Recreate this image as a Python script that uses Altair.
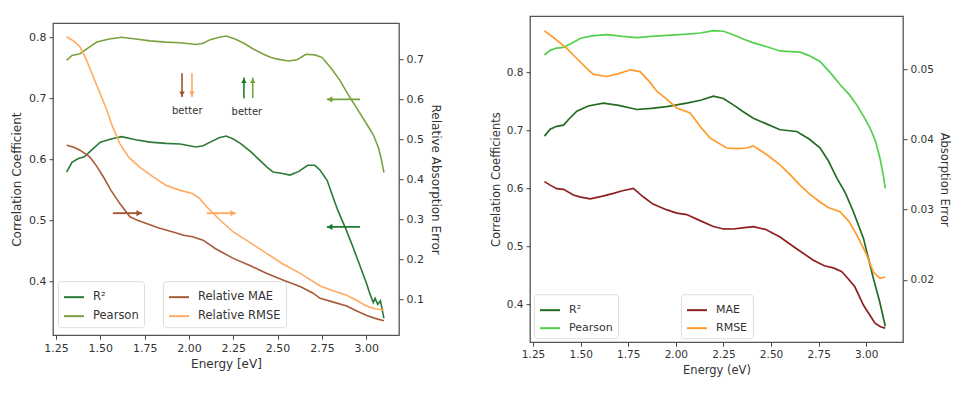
import altair as alt
import pandas as pd

# ---------------- Left panel data ----------------
L_pear_e = [1.31, 1.34, 1.385, 1.43, 1.48, 1.55, 1.62, 1.70, 1.78, 1.87, 1.95, 2.04, 2.08, 2.12, 2.17, 2.21, 2.26, 2.31, 2.36, 2.42, 2.46, 2.50, 2.56, 2.61, 2.66, 2.71, 2.75, 2.80, 2.85, 2.90, 2.95, 3.00, 3.04, 3.07, 3.085, 3.10]
L_pear_v = [0.762, 0.770, 0.773, 0.782, 0.792, 0.797, 0.800, 0.797, 0.794, 0.792, 0.791, 0.788, 0.790, 0.796, 0.800, 0.802, 0.797, 0.790, 0.781, 0.772, 0.767, 0.764, 0.761, 0.763, 0.772, 0.771, 0.767, 0.750, 0.730, 0.705, 0.682, 0.659, 0.640, 0.618, 0.600, 0.578]

L_r2_e = [1.31, 1.34, 1.376, 1.41, 1.45, 1.50, 1.56, 1.62, 1.70, 1.78, 1.87, 1.95, 2.04, 2.08, 2.12, 2.17, 2.21, 2.25, 2.29, 2.35, 2.40, 2.44, 2.475, 2.52, 2.57, 2.62, 2.67, 2.71, 2.74, 2.78, 2.81, 2.84, 2.88, 2.92, 2.96, 3.00, 3.02, 3.04, 3.05, 3.065, 3.08, 3.10]
L_r2_v = [0.579, 0.595, 0.601, 0.604, 0.615, 0.628, 0.633, 0.637, 0.632, 0.628, 0.626, 0.625, 0.620, 0.622, 0.628, 0.635, 0.638, 0.633, 0.626, 0.612, 0.598, 0.587, 0.579, 0.577, 0.574, 0.580, 0.590, 0.590, 0.582, 0.565, 0.540, 0.516, 0.489, 0.460, 0.429, 0.398, 0.380, 0.365, 0.372, 0.362, 0.368, 0.339]

L_rmse_e = [1.31, 1.35, 1.385, 1.42, 1.46, 1.50, 1.536, 1.57, 1.61, 1.66, 1.72, 1.80, 1.87, 1.95, 2.02, 2.06, 2.10, 2.175, 2.25, 2.35, 2.44, 2.53, 2.63, 2.74, 2.82, 2.89, 2.95, 3.00, 3.05, 3.10]
L_rmse_v = [0.756, 0.745, 0.731, 0.700, 0.656, 0.613, 0.573, 0.530, 0.489, 0.455, 0.431, 0.405, 0.385, 0.372, 0.364, 0.352, 0.331, 0.298, 0.268, 0.240, 0.214, 0.188, 0.164, 0.133, 0.120, 0.110, 0.096, 0.083, 0.076, 0.073]

L_mae_e = [1.31, 1.35, 1.385, 1.44, 1.48, 1.517, 1.56, 1.61, 1.667, 1.71, 1.76, 1.83, 1.91, 1.97, 2.02, 2.08, 2.15, 2.25, 2.35, 2.44, 2.53, 2.63, 2.70, 2.74, 2.82, 2.89, 2.95, 3.00, 3.05, 3.10]
L_mae_v = [0.485, 0.480, 0.4725, 0.456, 0.432, 0.406, 0.372, 0.339, 0.306, 0.297, 0.289, 0.278, 0.268, 0.260, 0.256, 0.2475, 0.226, 0.202, 0.183, 0.164, 0.148, 0.131, 0.115, 0.102, 0.092, 0.083, 0.070, 0.060, 0.052, 0.046]

# ---------------- Right panel data ----------------
R_pear_e = [1.31, 1.34, 1.374, 1.41, 1.45, 1.50, 1.56, 1.637, 1.72, 1.795, 1.87, 1.952, 2.057, 2.13, 2.197, 2.25, 2.302, 2.35, 2.407, 2.47, 2.547, 2.60, 2.652, 2.70, 2.757, 2.81, 2.862, 2.91, 2.95, 2.99, 3.02, 3.05, 3.072, 3.09, 3.10]
R_pear_v = [0.830, 0.838, 0.842, 0.843, 0.850, 0.859, 0.863, 0.865, 0.862, 0.860, 0.862, 0.864, 0.866, 0.868, 0.872, 0.871, 0.865, 0.858, 0.851, 0.845, 0.837, 0.836, 0.835, 0.829, 0.819, 0.800, 0.779, 0.762, 0.744, 0.722, 0.704, 0.680, 0.652, 0.622, 0.600]

R_r2_e = [1.31, 1.34, 1.374, 1.41, 1.44, 1.48, 1.54, 1.619, 1.70, 1.795, 1.87, 1.952, 2.057, 2.13, 2.197, 2.25, 2.302, 2.35, 2.407, 2.47, 2.547, 2.635, 2.70, 2.757, 2.80, 2.845, 2.89, 2.932, 2.985, 3.037, 3.07, 3.10]
R_r2_v = [0.690, 0.702, 0.707, 0.709, 0.720, 0.733, 0.742, 0.747, 0.743, 0.736, 0.738, 0.741, 0.747, 0.752, 0.759, 0.755, 0.744, 0.733, 0.721, 0.712, 0.701, 0.698, 0.685, 0.670, 0.648, 0.618, 0.592, 0.560, 0.514, 0.445, 0.405, 0.362]

R_rmse_e = [1.31, 1.35, 1.392, 1.427, 1.46, 1.497, 1.53, 1.567, 1.637, 1.70, 1.76, 1.812, 1.86, 1.90, 1.95, 2.005, 2.075, 2.13, 2.18, 2.267, 2.32, 2.372, 2.407, 2.48, 2.547, 2.60, 2.652, 2.70, 2.757, 2.80, 2.862, 2.91, 2.95, 3.00, 3.037, 3.072, 3.10]
R_rmse_v = [0.0555, 0.0547, 0.0538, 0.0530, 0.0521, 0.0511, 0.0502, 0.0493, 0.0490, 0.0494, 0.04995, 0.0497, 0.0483, 0.0469, 0.0458, 0.0445, 0.0438, 0.0418, 0.0402, 0.0388, 0.0387, 0.0388, 0.0391, 0.0378, 0.0364, 0.0350, 0.0335, 0.0323, 0.0311, 0.0303, 0.0297, 0.0283, 0.0264, 0.0237, 0.0211, 0.0202, 0.0204]

R_mae_e = [1.31, 1.34, 1.374, 1.41, 1.462, 1.50, 1.55, 1.61, 1.672, 1.72, 1.777, 1.83, 1.88, 1.95, 2.005, 2.057, 2.13, 2.197, 2.25, 2.302, 2.35, 2.407, 2.47, 2.547, 2.63, 2.722, 2.78, 2.827, 2.87, 2.897, 2.94, 2.985, 3.02, 3.046, 3.075, 3.10]
R_mae_v = [0.0340, 0.0335, 0.0330, 0.0329, 0.0321, 0.0318, 0.03153, 0.0319, 0.03233, 0.0327, 0.03304, 0.0318, 0.0308, 0.0300, 0.0295, 0.0293, 0.0284, 0.0276, 0.02725, 0.02724, 0.0274, 0.02757, 0.0272, 0.0261, 0.0245, 0.0228, 0.0220, 0.0217, 0.0212, 0.0204, 0.0190, 0.0164, 0.0149, 0.0138, 0.0133, 0.0131]

# tick values
x_ticks = [1.25, 1.50, 1.75, 2.00, 2.25, 2.50, 2.75, 3.00]
L_left_ticks = [0.4, 0.5, 0.6, 0.7, 0.8]
L_right_ticks = [0.1, 0.2, 0.3, 0.4, 0.5, 0.6, 0.7]
R_left_ticks = [0.4, 0.5, 0.6, 0.7, 0.8]
R_right_ticks = [0.02, 0.03, 0.04, 0.05]

# annotation arrows on left panel (energy, left-axis value)
h_arrows = [  # x_from, x_to (tip), y, colour
    (2.965, 2.778, 0.698, "#76a33c"),
    (2.965, 2.778, 0.489, "#1f7a30"),
    (1.571, 1.735, 0.5115, "#a0522d"),
    (2.100, 2.265, 0.5115, "#ffa85c"),
]
v_arrows = [  # x, y_from, y_to (tip), colour
    (1.961, 0.741, 0.702, "#a0522d"),
    (2.017, 0.741, 0.702, "#ffa85c"),
    (2.310, 0.700, 0.734, "#1f7a30"),
    (2.360, 0.700, 0.734, "#76a33c"),
]
better_e = [1.99, 2.327]
better_v = [0.679, 0.677]

FONT = "DejaVu Sans"
TXT = "#333333"


def long_df(pairs):
    rows = []
    for name, es, vs in pairs:
        for e, v in zip(es, vs):
            rows.append({"e": e, "v": v, "s": name})
    return pd.DataFrame(rows)


# ----- Left panel -----
L_xdom = [1.233, 3.185]
L_ydom = [0.3115, 0.823]
L_y2dom = [0.01, 0.79]

L_corr = long_df([("R²", L_r2_e, L_r2_v), ("Pearson", L_pear_e, L_pear_v)])
L_err = long_df([("Relative MAE", L_mae_e, L_mae_v), ("Relative RMSE", L_rmse_e, L_rmse_v)])

L_x = alt.X("e:Q", scale=alt.Scale(domain=L_xdom, nice=False, zero=False),
            axis=alt.Axis(values=x_ticks, format=".2f", title="Energy [eV]"))
L_y = alt.Y("v:Q", scale=alt.Scale(domain=L_ydom, nice=False, zero=False),
            axis=alt.Axis(values=L_left_ticks, format=".1f", title="Correlation Coefficient", orient="left"))

L_corr_lines = alt.Chart(L_corr).mark_line(strokeWidth=1.6).encode(
    x=L_x, y=L_y,
    color=alt.Color("s:N", scale=alt.Scale(domain=["R²", "Pearson"], range=["#2a7a35", "#7aa33f"]),
                    sort=["R²", "Pearson"],
                    legend=alt.Legend(title=None, orient="none", legendX=5, legendY=258)),
    order="e:Q",
)

annot = []
for x0, x1, yv, col in h_arrows:
    d = pd.DataFrame({"e": [x0], "e2": [x1], "v": [yv]})
    annot.append(alt.Chart(d).mark_rule(strokeWidth=1.8, color=col).encode(x=L_x, x2="e2:Q", y=L_y))
    shape = "triangle-left" if x1 < x0 else "triangle-right"
    tip = pd.DataFrame({"e": [x1 + (0.016 if x1 < x0 else -0.016)], "v": [yv]})
    annot.append(alt.Chart(tip).mark_point(shape=shape, filled=True, size=38, color=col, opacity=1).encode(
        x=L_x, y=L_y))
for xv, y0, y1, col in v_arrows:
    d = pd.DataFrame({"e": [xv], "v": [y0], "v2": [y1]})
    annot.append(alt.Chart(d).mark_rule(strokeWidth=1.6, color=col).encode(x=L_x, y=L_y, y2="v2:Q"))
    shape = "triangle-down" if y1 < y0 else "triangle-up"
    tip = pd.DataFrame({"e": [xv], "v": [y1 + (0.005 if y1 < y0 else -0.005)]})
    annot.append(alt.Chart(tip).mark_point(shape=shape, filled=True, size=30, color=col, opacity=1).encode(
        x=L_x, y=L_y))
bt = pd.DataFrame({"e": better_e, "v": better_v, "t": ["better", "better"]})
annot.append(alt.Chart(bt).mark_text(fontSize=10, color=TXT, font=FONT).encode(x=L_x, y=L_y, text="t:N"))

L_inner = alt.layer(L_corr_lines, *annot)

L_err_lines = alt.Chart(L_err).mark_line(strokeWidth=1.6).encode(
    x=L_x,
    y=alt.Y("v:Q", scale=alt.Scale(domain=L_y2dom, nice=False, zero=False),
            axis=alt.Axis(values=L_right_ticks, format=".1f", title="Relative Absorption Error", orient="right")),
    stroke=alt.Stroke("s:N", scale=alt.Scale(domain=["Relative MAE", "Relative RMSE"], range=["#a65a36", "#ffab62"]),
                      legend=alt.Legend(title=None, orient="none", legendX=110, legendY=258)),
    order="e:Q",
)

left_panel = alt.layer(L_inner, L_err_lines).resolve_scale(y="independent").properties(width=346, height=312)

# ----- Right panel -----
R_xdom = [1.234, 3.193]
R_ydom = [0.3345, 0.897]
R_y2dom = [0.0111, 0.0576]

R_corr = long_df([("R²", R_r2_e, R_r2_v), ("Pearson", R_pear_e, R_pear_v)])
R_err = long_df([("MAE", R_mae_e, R_mae_v), ("RMSE", R_rmse_e, R_rmse_v)])

R_lab = 10.5
R_tit = 11.5
R_x = alt.X("e:Q", scale=alt.Scale(domain=R_xdom, nice=False, zero=False),
            axis=alt.Axis(values=x_ticks, format=".2f", title="Energy (eV)",
                          labelFontSize=R_lab, titleFontSize=R_tit))

R_corr_lines = alt.Chart(R_corr).mark_line(strokeWidth=1.7).encode(
    x=R_x,
    y=alt.Y("v:Q", scale=alt.Scale(domain=R_ydom, nice=False, zero=False),
            axis=alt.Axis(values=R_left_ticks, format=".1f", title="Correlation Coefficients", orient="left",
                          labelFontSize=R_lab, titleFontSize=R_tit)),
    color=alt.Color("s:N", scale=alt.Scale(domain=["R²", "Pearson"], range=["#246b22", "#52d04e"]),
                    sort=["R²", "Pearson"],
                    legend=alt.Legend(title=None, orient="none", legendX=4, legendY=278, labelFontSize=11)),
    order="e:Q",
)
R_err_lines = alt.Chart(R_err).mark_line(strokeWidth=1.7).encode(
    x=R_x,
    y=alt.Y("v:Q", scale=alt.Scale(domain=R_y2dom, nice=False, zero=False),
            axis=alt.Axis(values=R_right_ticks, format=".2f", title="Absorption Error", orient="right",
                          labelFontSize=R_lab, titleFontSize=R_tit)),
    stroke=alt.Stroke("s:N", scale=alt.Scale(domain=["MAE", "RMSE"], range=["#8e1f1f", "#ff9b2a"]),
                      legend=alt.Legend(title=None, orient="none", legendX=151, legendY=278, labelFontSize=11)),
    order="e:Q",
)
right_panel = alt.layer(R_corr_lines, R_err_lines).resolve_scale(y="independent").properties(width=373, height=326)

chart = alt.hconcat(left_panel, right_panel, spacing=46, center=True).resolve_scale(
    color="independent", stroke="independent", x="independent", y="independent"
).resolve_legend(color="independent", stroke="independent").properties(
    padding={"left": 1, "top": 7, "right": 5, "bottom": 5}
).configure(font=FONT).configure_view(
    stroke="#555555", strokeWidth=1.3
).configure_axis(
    domain=False, grid=False, tickSize=4, tickColor="#444444", tickWidth=1,
    labelFontSize=11, titleFontSize=12, titleFontWeight="normal",
    labelColor=TXT, titleColor=TXT, labelFont=FONT, titleFont=FONT, labelPadding=3, titlePadding=5
).configure_legend(
    symbolType="stroke", symbolStrokeWidth=2, symbolSize=400, labelFontSize=11.5, labelColor=TXT,
    labelFont=FONT, fillColor="white", strokeColor="#dddddd", cornerRadius=3, padding=5, rowPadding=2,
    labelOffset=8
)

chart.save("out.html", embed_options={"renderer": "svg", "actions": False})
